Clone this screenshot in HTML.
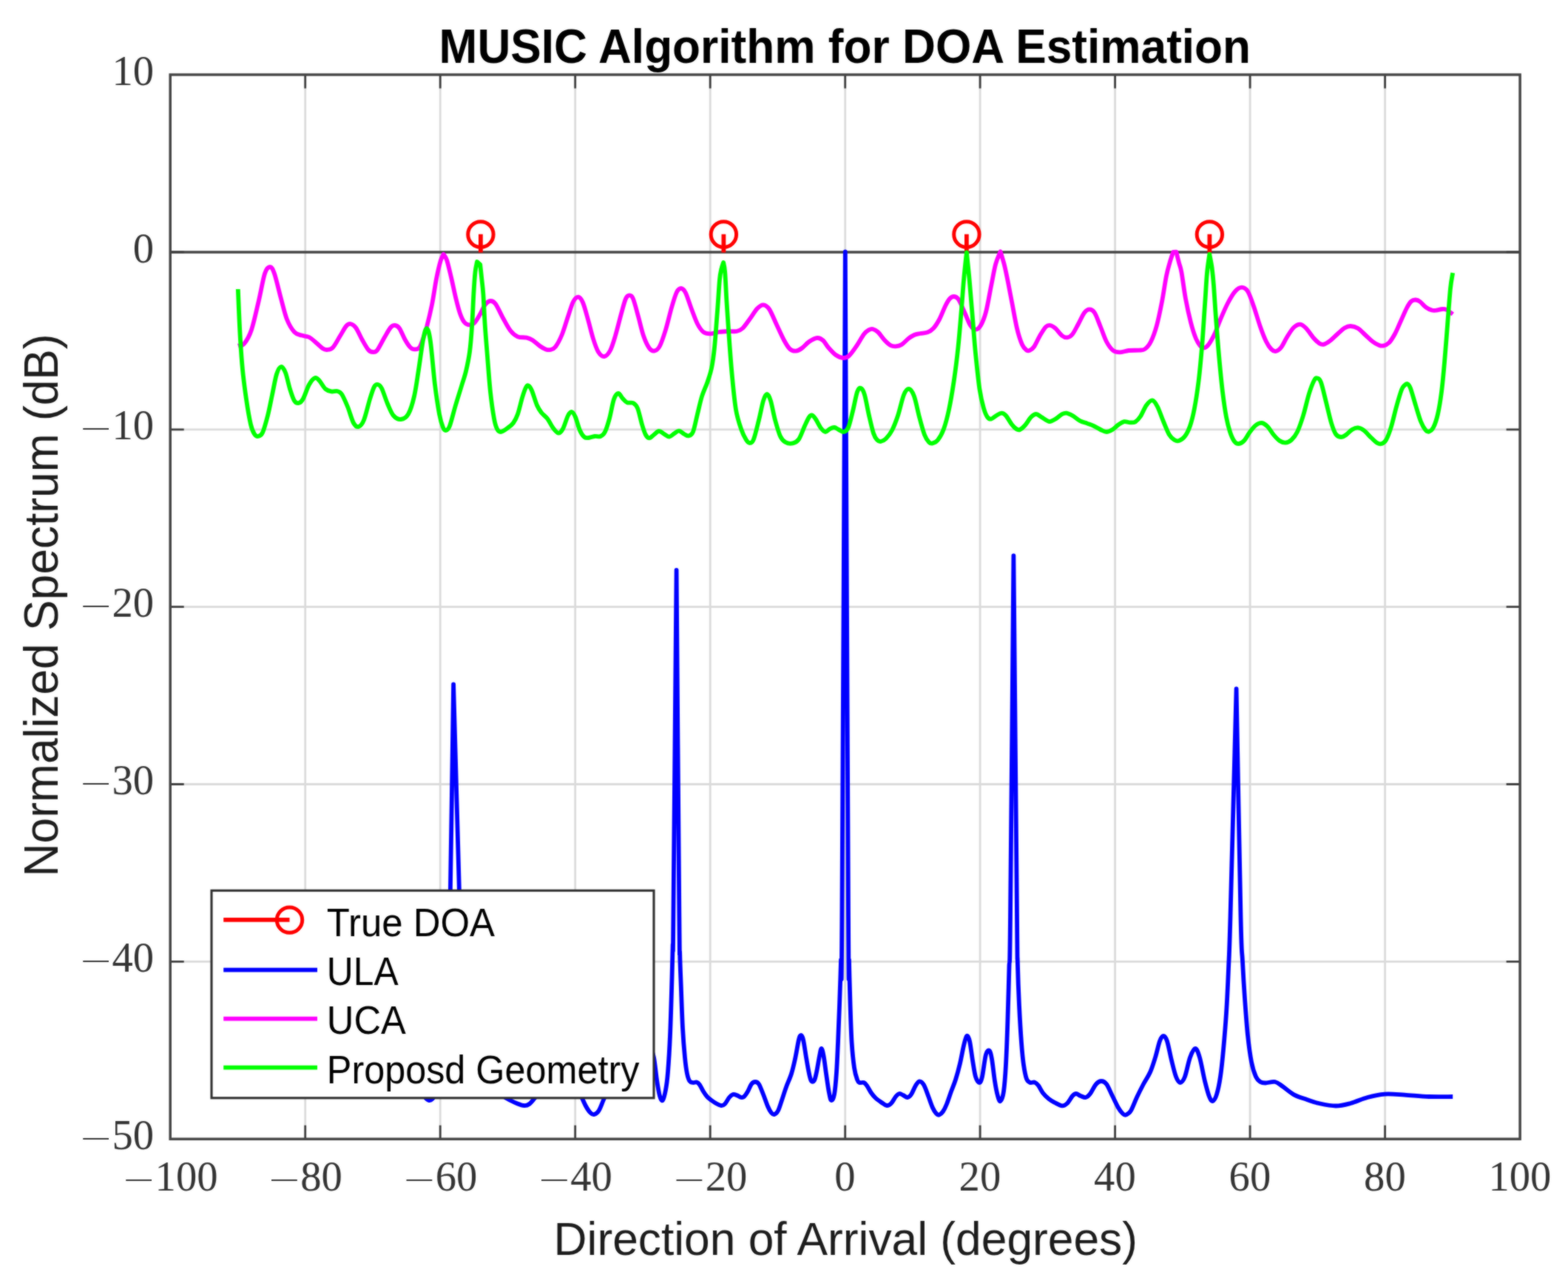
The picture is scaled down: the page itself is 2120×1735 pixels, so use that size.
<!DOCTYPE html>
<html lang="en"><head><meta charset="utf-8"><title>MUSIC Algorithm for DOA Estimation</title>
<style>
html,body{margin:0;padding:0;background:#fff}
body{width:2120px;height:1735px;overflow:hidden}
svg{display:block}
text{white-space:pre}
.ti{font-family:"Liberation Sans",sans-serif;font-weight:bold;fill:#000}
.al{font-family:"Liberation Sans",sans-serif;fill:#1c1c1c}
.lg{font-family:"Liberation Sans",sans-serif;fill:#000}
.tk{font-family:"Liberation Serif",serif;fill:#333}
</style></head><body>
<svg width="2120" height="1735" viewBox="0 0 2120 1735">
<defs><filter id="soft" color-interpolation-filters="sRGB" x="0" y="0" width="2120" height="1735" filterUnits="userSpaceOnUse"><feGaussianBlur stdDeviation="0.9" result="b"/><feComposite in="SourceGraphic" in2="b" operator="arithmetic" k1="0" k2="0.45" k3="0.55" k4="0"/></filter></defs>
<g filter="url(#soft)">
<rect width="2120" height="1735" fill="#fff"/>
<path d="M412.7 101V1540.3M595.2 101V1540.3M777.7 101V1540.3M960.2 101V1540.3M1142.7 101V1540.3M1325.1 101V1540.3M1507.6 101V1540.3M1690.1 101V1540.3M1872.6 101V1540.3M230.2 1300.4H2055.1M230.2 1060.5H2055.1M230.2 820.6H2055.1M230.2 580.8H2055.1M230.2 340.9H2055.1" fill="none" stroke="#dadada" stroke-width="2.8"/>
<path d="M230.2 340.9H2055.1" stroke="#444444" stroke-width="3.5" fill="none"/>
<g fill="none" stroke="#f00" stroke-width="5.8">
<path d="M649.9 341.5V316.7"/>
<path d="M978.4 341.5V316.7"/>
<path d="M1306.9 341.5V316.7"/>
<path d="M1635.4 341.5V316.7"/>
</g>
<g fill="none" stroke="#f00" stroke-width="5">
<circle cx="649.9" cy="317" r="17.2"/>
<circle cx="978.4" cy="317" r="17.2"/>
<circle cx="1306.9" cy="317" r="17.2"/>
<circle cx="1635.4" cy="317" r="17.2"/>
</g>
<g fill="none" stroke-width="5.8" stroke-linejoin="round" stroke-linecap="butt">
<path stroke="#00f" d="M321.8 1452C328.6 1448.7 350.5 1439.7 362.9 1432C375.2 1424.3 387.3 1411.3 395.7 1406C404.1 1400.7 407.5 1400 413.1 1400C418.7 1400 423.2 1401 429.2 1406C435.2 1411 442.7 1422.3 449.1 1430C455.5 1437.7 462.3 1446.7 467.6 1452C472.9 1457.3 475.8 1460.5 480.7 1462C485.7 1463.5 492.6 1463 497.4 1461C502.1 1459 504.8 1455.5 509.3 1450C513.8 1444.5 520.4 1433.3 524.6 1428C528.7 1422.7 530.8 1418 534.2 1418C537.5 1418 541.1 1422.3 544.9 1428C548.7 1433.7 552.5 1443.7 556.7 1452C560.9 1460.3 566.3 1472 570.2 1478C574.1 1484 577 1487.7 580 1488C583 1488.3 585.8 1486.3 588.1 1480C590.5 1473.7 592.5 1461.7 594.1 1450C595.8 1438.3 596.7 1425 598 1410C599.3 1395 600.6 1378.3 601.9 1360C603.1 1341.7 604.6 1320 605.7 1300C606.7 1280 607.1 1302.4 608.3 1240C609.5 1177.6 612.3 977.9 613.1 925.5C614.6 977.9 620.2 1179.2 621.9 1240C623.6 1300.8 622.5 1273.3 623.2 1290C624 1306.7 625.2 1323.3 626.3 1340C627.3 1356.7 628.2 1375 629.6 1390C630.9 1405 632.9 1419.7 634.5 1430C636.1 1440.3 637.6 1446.7 639.4 1452C641.1 1457.3 642.7 1460 644.8 1462C646.9 1464 649.6 1463.7 652.1 1464C654.6 1464.3 657.6 1463.1 659.9 1463.6C662.2 1464.1 663.7 1464.9 666 1467C668.3 1469.1 671.1 1473.3 673.6 1476C676.1 1478.7 678.4 1481 681.1 1483C683.8 1485 687 1486.5 689.9 1488C692.8 1489.5 695.5 1490.8 698.6 1492C701.7 1493.2 705.7 1494.8 708.6 1495C711.4 1495.2 713 1494.8 715.6 1493C718.2 1491.2 721.4 1486.5 723.9 1484C726.5 1481.5 728.5 1479 730.8 1478C733.1 1477 735.1 1478 737.6 1478C740.1 1478 743.4 1478 745.6 1478C747.9 1478 749 1478.3 751 1478C752.9 1477.7 755.4 1478 757.6 1476C759.7 1474 761.9 1468.2 764.1 1466C766.3 1463.8 768.4 1463 770.6 1463C772.7 1463 774.7 1463.2 777 1466C779.3 1468.8 782.1 1475 784.6 1480C787.2 1485 789.9 1491.8 792.2 1496C794.5 1500.2 796.6 1503.2 798.5 1505C800.3 1506.8 801.6 1507.5 803.4 1507C805.3 1506.5 807.6 1505.2 809.6 1502C811.7 1498.8 813.5 1493.3 815.7 1488C818 1482.7 820.4 1476 823 1470C825.7 1464 829.1 1458.3 831.5 1452C833.9 1445.7 835.5 1439.7 837.5 1432C839.5 1424.3 841.8 1411.3 843.4 1406C845 1400.7 845.8 1400 847 1400C848.2 1400 849.1 1401 850.5 1406C851.9 1411 853.6 1422.3 855.2 1430C856.8 1437.7 858.5 1446.7 859.9 1452C861.2 1457.3 862 1460.5 863.4 1462C864.7 1463.5 866.7 1463 868 1461C869.4 1459 870.1 1455.5 871.5 1450C872.8 1444.5 874.8 1433.3 876.1 1428C877.3 1422.7 877.7 1417.7 879.1 1418C880.4 1418.3 882.5 1423 884 1430C885.5 1437 886.7 1451.3 888 1460C889.3 1468.7 890.7 1477.3 892 1482C893.3 1486.7 894.7 1489.3 896 1488C897.3 1486.7 898.8 1480.3 900 1474C901.2 1467.7 902 1462.3 903 1450C904 1437.7 905.2 1418.3 906 1400C906.8 1381.7 907.4 1360 908 1340C908.6 1320 909.2 1296.7 909.6 1280C910 1263.3 909.6 1324.8 910.4 1240C911.2 1155.2 913.9 849.2 914.6 771C915.2 849.2 917.6 1153.5 918.4 1240C919.2 1326.5 918.8 1273.3 919.2 1290C919.6 1306.7 920.4 1323.3 921 1340C921.6 1356.7 922.2 1375 923 1390C923.8 1405 925 1419.7 926 1430C927 1440.3 927.9 1446.7 929 1452C930.1 1457.3 931.1 1460 932.4 1462C933.7 1464 935.4 1463.7 937 1464C938.6 1464.3 940.5 1463.1 942 1463.6C943.5 1464.1 944.5 1464.9 946 1467C947.5 1469.1 949.3 1473.3 951 1476C952.7 1478.7 954.2 1481 956 1483C957.8 1485 960 1486.5 962 1488C964 1489.5 965.8 1490.8 968 1492C970.2 1493.2 973 1494.8 975 1495C977 1495.2 978.2 1494.8 980 1493C981.8 1491.2 984.2 1486.2 986 1484C987.8 1481.8 989.3 1480.5 991 1480C992.7 1479.5 994.2 1480.3 996 1481C997.8 1481.7 1000.3 1483.7 1002 1484C1003.7 1484.3 1004.5 1484.3 1006 1483C1007.5 1481.7 1009.3 1478.8 1011 1476C1012.7 1473.2 1014.3 1468.2 1016 1466C1017.7 1463.8 1019.3 1463 1021 1463C1022.7 1463 1024.2 1463.2 1026 1466C1027.8 1468.8 1030 1475 1032 1480C1034 1485 1036.2 1491.8 1038 1496C1039.8 1500.2 1041.5 1503.2 1043 1505C1044.5 1506.8 1045.5 1507.5 1047 1507C1048.5 1506.5 1050.3 1505.2 1052 1502C1053.7 1498.8 1055.2 1493.3 1057 1488C1058.8 1482.7 1060.8 1476 1063 1470C1065.2 1464 1068 1458.3 1070 1452C1072 1445.7 1073.3 1439.7 1075 1432C1076.7 1424.3 1078.7 1411.3 1080 1406C1081.3 1400.7 1082 1400 1083 1400C1084 1400 1084.8 1401 1086 1406C1087.2 1411 1088.7 1422.3 1090 1430C1091.3 1437.7 1092.8 1446.7 1094 1452C1095.2 1457.3 1095.8 1460.5 1097 1462C1098.2 1463.5 1099.8 1463 1101 1461C1102.2 1459 1102.8 1455.5 1104 1450C1105.2 1444.5 1106.9 1433.3 1108 1428C1109.1 1422.7 1109.7 1418 1110.6 1418C1111.5 1418 1112.5 1422.3 1113.6 1428C1114.7 1433.7 1115.8 1443.7 1117 1452C1118.2 1460.3 1119.8 1472 1121 1478C1122.2 1484 1122.8 1487.7 1124 1488C1125.2 1488.3 1126.8 1486.3 1128 1480C1129.2 1473.7 1130.2 1461.7 1131 1450C1131.8 1438.3 1132.3 1425 1133 1410C1133.7 1395 1134.3 1378.3 1135 1360C1135.7 1341.7 1136.4 1320 1137 1300C1137.6 1280 1137.4 1399.9 1138.4 1240C1139.4 1080.1 1142.1 490.4 1142.8 340.5C1143.5 490.4 1146.1 1080.1 1147 1240C1147.9 1399.9 1147.6 1280 1148 1300C1148.4 1320 1149 1341.7 1149.6 1360C1150.2 1378.3 1150.7 1396 1151.6 1410C1152.5 1424 1153.8 1435.7 1155 1444C1156.2 1452.3 1157.8 1456.7 1159 1460C1160.2 1463.3 1160.5 1463.3 1162 1464C1163.5 1464.7 1166.3 1463.3 1168 1464C1169.7 1464.7 1170.3 1465.7 1172 1468C1173.7 1470.3 1176 1475.2 1178 1478C1180 1480.8 1181.7 1482.8 1184 1485C1186.3 1487.2 1189.5 1489.3 1192 1491C1194.5 1492.7 1196.8 1494.8 1199 1495C1201.2 1495.2 1203 1494 1205 1492C1207 1490 1209.2 1485.2 1211 1483C1212.8 1480.8 1214.3 1479.3 1216 1479C1217.7 1478.7 1219.2 1480.2 1221 1481C1222.8 1481.8 1225.2 1484.2 1227 1484C1228.8 1483.8 1230.2 1482.7 1232 1480C1233.8 1477.3 1236.2 1470.9 1238 1468C1239.8 1465.1 1241.2 1462.6 1243 1462.4C1244.8 1462.2 1247 1463.7 1249 1467C1251 1470.3 1253 1476.8 1255 1482C1257 1487.2 1259.2 1494 1261 1498C1262.8 1502 1264.5 1504.4 1266 1506C1267.5 1507.6 1268.5 1508.1 1270 1507.6C1271.5 1507.1 1273.3 1505.4 1275 1503C1276.7 1500.6 1278.2 1497.5 1280 1493C1281.8 1488.5 1284 1481.5 1286 1476C1288 1470.5 1290 1466.3 1292 1460C1294 1453.7 1296.2 1445.7 1298 1438C1299.8 1430.3 1301.5 1420.2 1303 1414C1304.5 1407.8 1305.7 1402 1307 1401C1308.3 1400 1309.7 1402.5 1311 1408C1312.3 1413.5 1313.7 1426 1315 1434C1316.3 1442 1317.5 1451 1319 1456C1320.5 1461 1322.5 1464 1324 1464C1325.5 1464 1326.5 1462.3 1328 1456C1329.5 1449.7 1331.3 1431.8 1333 1426C1334.7 1420.2 1336.7 1420 1338 1421C1339.3 1422 1339.8 1425.2 1341 1432C1342.2 1438.8 1343.7 1453.7 1345 1462C1346.3 1470.3 1347.7 1477.5 1349 1482C1350.3 1486.5 1351.3 1490 1352.6 1489C1353.9 1488 1355.8 1484.2 1357 1476C1358.2 1467.8 1359.1 1456 1360 1440C1360.9 1424 1361.7 1401.7 1362.4 1380C1363.1 1358.3 1363.8 1333.3 1364.4 1310C1365 1286.7 1365 1333.1 1366 1240C1367 1146.9 1369.7 832.9 1370.4 751.5C1371.2 832.9 1374.1 1148.6 1375 1240C1375.9 1331.4 1375.3 1280 1375.8 1300C1376.3 1320 1377.1 1341.7 1378 1360C1378.9 1378.3 1380 1396.7 1381 1410C1382 1423.3 1382.8 1431.8 1384 1440C1385.2 1448.2 1386.5 1455 1388 1459C1389.5 1463 1391.2 1463.2 1393 1464C1394.8 1464.8 1397.2 1462.9 1399 1463.6C1400.8 1464.3 1402.2 1465.6 1404 1468C1405.8 1470.4 1407.7 1475 1410 1478C1412.3 1481 1415.3 1483.8 1418 1486C1420.7 1488.2 1423 1489.4 1426 1491C1429 1492.6 1433.2 1495.2 1436 1495.4C1438.8 1495.6 1440.7 1494.2 1443 1492C1445.3 1489.8 1448 1484.2 1450 1482C1452 1479.8 1453.2 1479 1455 1479C1456.8 1479 1458.8 1481.2 1461 1482C1463.2 1482.8 1465.8 1484.5 1468 1484C1470.2 1483.5 1471.7 1482 1474 1479C1476.3 1476 1479.5 1468.8 1482 1466C1484.5 1463.2 1486.7 1462 1489 1462C1491.3 1462 1493.5 1462.7 1496 1466C1498.5 1469.3 1501.3 1476.7 1504 1482C1506.7 1487.3 1509.7 1494 1512 1498C1514.3 1502 1516.3 1504.4 1518 1506C1519.7 1507.6 1520.6 1508.3 1522.4 1507.6C1524.2 1506.9 1526.6 1505.9 1529 1502C1531.4 1498.1 1534.2 1490 1537 1484C1539.8 1478 1543 1471.7 1546 1466C1549 1460.3 1552.3 1456 1555 1450C1557.7 1444 1559.8 1437 1562 1430C1564.2 1423 1566.2 1412.8 1568 1408C1569.8 1403.2 1571.3 1401 1573 1401C1574.7 1401 1576.2 1402.5 1578 1408C1579.8 1413.5 1582 1426 1584 1434C1586 1442 1588.1 1451 1590 1456C1591.9 1461 1593.6 1464 1595.6 1464C1597.6 1464 1599.8 1461.7 1602 1456C1604.2 1450.3 1606.7 1436.3 1609 1430C1611.3 1423.7 1613.8 1418 1616 1418C1618.2 1418 1619.8 1422.7 1622 1430C1624.2 1437.3 1626.8 1453.2 1629 1462C1631.2 1470.8 1633.2 1478.5 1635 1483C1636.8 1487.5 1637.9 1489.5 1639.6 1489C1641.3 1488.5 1643.3 1485.5 1645 1480C1646.7 1474.5 1648.5 1466 1650 1456C1651.5 1446 1652.7 1434.3 1654 1420C1655.3 1405.7 1656.8 1388.3 1658 1370C1659.2 1351.7 1660.1 1331.7 1661 1310C1661.9 1288.3 1661.7 1303.1 1663.5 1240C1665.3 1176.9 1670.2 982.9 1671.6 931.5C1672.6 982.9 1676.1 1178.6 1677.5 1240C1678.9 1301.4 1679.1 1281.7 1680 1300C1680.9 1318.3 1681.8 1333.3 1683 1350C1684.2 1366.7 1685.5 1385.7 1687 1400C1688.5 1414.3 1690.2 1426.7 1692 1436C1693.8 1445.3 1696 1451.5 1698 1456C1700 1460.5 1701.8 1461.6 1704 1463C1706.2 1464.4 1707.7 1464.5 1711 1464.5C1714.3 1464.5 1720.2 1462.2 1724 1463C1727.8 1463.8 1729.7 1466.1 1734 1469C1738.3 1471.9 1744.5 1477.6 1750 1480.6C1755.5 1483.6 1761.5 1485.1 1767 1487C1772.5 1488.9 1776.5 1490.6 1783 1492C1789.5 1493.4 1798.8 1495.5 1806 1495.5C1813.2 1495.5 1818.8 1493.9 1826 1492C1833.2 1490.1 1841.3 1486.1 1849 1484C1856.7 1481.9 1863.7 1480.2 1872 1479.6C1880.3 1479 1889 1480 1899 1480.6C1909 1481.2 1921.1 1482.6 1932 1483C1942.9 1483.4 1958.9 1483 1964.2 1483"/>
<path stroke="#f0f" d="M321.8 467.6C323.1 467.2 327 468.6 330 465C333 461.4 336.7 455.8 340 446C343.3 436.2 347 418.7 350 406C353 393.3 355.5 377.5 358 370C360.5 362.5 362.8 361 365 361C367.2 361 368.5 362.8 371 370C373.5 377.2 377.2 393.7 380 404C382.8 414.3 385 424.5 388 432C391 439.5 394.7 445.4 398 449C401.3 452.6 404.7 452.4 408 453.6C411.3 454.8 414.7 454.3 418 456C421.3 457.7 425 461.5 428 464C431 466.5 433.7 469.5 436 471C438.3 472.5 439.7 473.2 442 473C444.3 472.8 447 473.2 450 470C453 466.8 457 458.8 460 454C463 449.2 465.7 443.7 468 441C470.3 438.3 471.8 437.7 474 438C476.2 438.3 478.3 439.3 481 443C483.7 446.7 487.2 455 490 460C492.8 465 495.7 470.3 498 473C500.3 475.7 502 475.9 504 476C506 476.1 507.3 476.9 510 473.6C512.7 470.3 517 461.1 520 456C523 450.9 525.7 445.7 528 443C530.3 440.3 532 439.8 534 440C536 440.2 537.7 440.7 540 444C542.3 447.3 545.5 455.7 548 460C550.5 464.3 552.8 467.9 555 470C557.2 472.1 559 472.4 561 472.4C563 472.4 565.2 472.4 567 470C568.8 467.6 570.3 462.7 572 458C573.7 453.3 575 449.7 577 442C579 434.3 581.8 422.8 584 412C586.2 401.2 588.1 386.8 590 377C591.9 367.2 594 358.5 595.6 353C597.2 347.5 599 345.3 599.7 343.8C600.5 345.2 602.5 346.8 604.2 352C605.9 357.2 608 366.7 610 375C612 383.3 614 393.8 616 402C618 410.2 620 418.3 622 424C624 429.7 625.8 433.4 628 436C630.2 438.6 632.7 439.4 635 439.4C637.3 439.4 639.7 438.4 642 436C644.3 433.6 646.7 429 649 425C651.3 421 653.7 415 656 412C658.3 409 660.7 407.2 663 407C665.3 406.8 667.2 407.2 670 411C672.8 414.8 676.7 424 680 430C683.3 436 686.7 442.8 690 447C693.3 451.2 696.3 453.7 700 455.3C703.7 456.9 708.7 455.8 712 456.6C715.3 457.4 717 458.1 720 460C723 461.9 727 465.9 730 468C733 470.1 735.7 471.6 738 472.4C740.3 473.2 741.8 473.6 744 473C746.2 472.4 748.3 472.5 751 469C753.7 465.5 757.2 458.8 760 452C762.8 445.2 765.5 435.3 768 428C770.5 420.7 772.7 412.4 775 408C777.3 403.6 779.8 401.4 782 401.6C784.2 401.8 785.8 403.9 788 409C790.2 414.1 792.7 423.8 795 432C797.3 440.2 799.7 450.7 802 458C804.3 465.3 806.5 472 809 476C811.5 480 814.3 482.3 817 482C819.7 481.7 822.5 478.7 825 474C827.5 469.3 829.5 462.3 832 454C834.5 445.7 837.7 432.3 840 424C842.3 415.7 844.2 408.1 846 404C847.8 399.9 849.3 399.4 851 399.4C852.7 399.4 854 399.2 856 404C858 408.8 860.7 419.7 863 428C865.3 436.3 867.5 446.8 870 454C872.5 461.2 875.5 467.6 878 471C880.5 474.4 882.7 474.9 885 474.4C887.3 473.9 889.5 472.7 892 468C894.5 463.3 897.3 454.7 900 446C902.7 437.3 905.5 424.5 908 416C910.5 407.5 912.8 399.3 915 395C917.2 390.7 919 389.8 921 390C923 390.2 924.7 391.3 927 396C929.3 400.7 932.3 411 935 418C937.7 425 940.3 432.8 943 438C945.7 443.2 948.2 446.8 951 449C953.8 451.2 956.5 451.4 960 451.4C963.5 451.4 968 449.6 972 449C976 448.4 980 448.2 984 448C988 447.8 992.7 448.7 996 448C999.3 447.3 1001 446.8 1004 444C1007 441.2 1010.7 435.5 1014 431C1017.3 426.5 1021 420.1 1024 417C1027 413.9 1029.3 412.1 1032 412.3C1034.7 412.5 1037 413.6 1040 418C1043 422.4 1046.7 432 1050 439C1053.3 446 1057 454.5 1060 460C1063 465.5 1065.3 469.6 1068 472C1070.7 474.4 1073.3 474.8 1076 474.6C1078.7 474.4 1081 473.1 1084 471C1087 468.9 1090.5 464.3 1094 462C1097.5 459.7 1101.8 457.2 1105 457C1108.2 456.8 1110.5 458.3 1113 460.5C1115.5 462.7 1117.2 466.8 1120 470C1122.8 473.2 1126.7 477.7 1130 480C1133.3 482.3 1137 483.8 1140 484C1143 484.2 1145 483.7 1148 481C1151 478.3 1154.7 472.8 1158 468C1161.3 463.2 1165.2 455.7 1168 452C1170.8 448.3 1173 447.2 1175 446C1177 444.8 1178 444.5 1180 445C1182 445.5 1184.3 446.5 1187 449C1189.7 451.5 1193.2 457 1196 460C1198.8 463 1201.5 465.6 1204 467C1206.5 468.4 1208.5 468.6 1211 468.4C1213.5 468.2 1216.2 467.7 1219 466C1221.8 464.3 1225.2 460.2 1228 458C1230.8 455.8 1233.3 454.2 1236 453C1238.7 451.8 1241 451.6 1244 451C1247 450.4 1251 450.6 1254 449.4C1257 448.2 1259.3 446.9 1262 444C1264.7 441.1 1267.3 437 1270 432C1272.7 427 1275.7 418.7 1278 414C1280.3 409.3 1282 406.2 1284 404C1286 401.8 1288 400.8 1290 401C1292 401.2 1293.7 401.5 1296 405C1298.3 408.5 1301.3 416.2 1304 422C1306.7 427.8 1309.5 436.1 1312 440C1314.5 443.9 1316.7 445.6 1319 445.6C1321.3 445.6 1323.7 443.9 1326 440C1328.3 436.1 1330.6 431 1333 422C1335.4 413 1338 396.8 1340.2 386C1342.4 375.2 1344.1 364.6 1346.2 357C1348.3 349.4 1351.5 343 1352.6 340.2C1353.4 343 1355.9 350.4 1357.6 357C1359.3 363.6 1360.9 371.5 1362.6 380C1364.3 388.5 1365.9 397.3 1368 408C1370.1 418.7 1372.7 434.3 1375 444C1377.3 453.7 1379.8 461.1 1382 466C1384.2 470.9 1386.3 472.3 1388 473.6C1389.7 474.9 1390.3 474.8 1392 474C1393.7 473.2 1395.7 472.3 1398 469C1400.3 465.7 1403.3 458.5 1406 454C1408.7 449.5 1411.7 444.3 1414 442C1416.3 439.7 1417.8 439.7 1420 440C1422.2 440.3 1424.3 441.7 1427 444C1429.7 446.3 1433.3 451.9 1436 454C1438.7 456.1 1440.7 456.7 1443 456.4C1445.3 456.1 1447.5 455.1 1450 452C1452.5 448.9 1455.3 442.8 1458 438C1460.7 433.2 1463.5 426.3 1466 423C1468.5 419.7 1470.7 418.4 1473 418.4C1475.3 418.4 1477.5 419.1 1480 423C1482.5 426.9 1485.3 435.5 1488 442C1490.7 448.5 1493.2 456.7 1496 462C1498.8 467.3 1502 471.6 1505 474C1508 476.4 1510.5 476.4 1514 476.4C1517.5 476.4 1521.7 474.5 1526 474C1530.3 473.5 1536.3 473.9 1540 473.6C1543.7 473.3 1545.3 473.9 1548 472C1550.7 470.1 1553.3 467.3 1556 462C1558.7 456.7 1561.5 449 1564 440C1566.5 431 1568.8 419.2 1571 408C1573.2 396.8 1575.2 381.8 1577 373C1578.8 364.2 1580.1 360.3 1581.6 355C1583.1 349.7 1585.4 343.3 1586.2 341L1590.4 340.6C1591 343.2 1593 351.4 1594.2 356C1595.4 360.6 1595.9 360 1597.4 368C1598.9 376 1600.9 392.7 1603 404C1605.1 415.3 1607.7 427 1610 436C1612.3 445 1614.8 452.7 1617 458C1619.2 463.3 1621.2 465.9 1623 468C1624.8 470.1 1626.2 470.7 1628 470.4C1629.8 470.1 1631.7 469.1 1634 466C1636.3 462.9 1639.3 457.7 1642 452C1644.7 446.3 1647 439 1650 432C1653 425 1656.7 416.3 1660 410C1663.3 403.7 1666.8 397.6 1670 394C1673.2 390.4 1676.2 388.6 1679 388.6C1681.8 388.6 1684.3 389.8 1687 394C1689.7 398.2 1692.2 406 1695 414C1697.8 422 1701.2 434 1704 442C1706.8 450 1709.5 456.9 1712 462C1714.5 467.1 1716.8 470.2 1719 472.4C1721.2 474.6 1722.8 475.4 1725 475C1727.2 474.6 1729.5 473.2 1732 470C1734.5 466.8 1737.2 460.5 1740 456C1742.8 451.5 1746 445.9 1749 443C1752 440.1 1755.2 438.4 1758 438.6C1760.8 438.8 1763 440.9 1766 444C1769 447.1 1773 453.6 1776 457C1779 460.4 1781.7 463 1784 464.4C1786.3 465.8 1787.7 466.2 1790 465.6C1792.3 465 1795 463.3 1798 461C1801 458.7 1804.7 454.9 1808 452C1811.3 449.1 1815 445.4 1818 443.6C1821 441.8 1823 440.9 1826 441C1829 441.1 1832.7 442 1836 444C1839.3 446 1842.7 450 1846 453C1849.3 456 1853 459.7 1856 462C1859 464.3 1861.7 465.7 1864 466.6C1866.3 467.5 1867.7 468.1 1870 467.6C1872.3 467.1 1875.3 466.2 1878 463.5C1880.7 460.8 1883.3 456.4 1886 451.5C1888.7 446.6 1891.3 439.8 1894 434C1896.7 428.2 1899.7 420.9 1902 416.5C1904.3 412.1 1906 409.3 1908 407.5C1910 405.7 1912 405.4 1914 405.5C1916 405.6 1917.7 406.3 1920 408C1922.3 409.7 1925.3 413.7 1928 415.6C1930.7 417.5 1933.7 418.9 1936 419.6C1938.3 420.3 1939.7 419.9 1942 419.6C1944.3 419.3 1947.7 418.1 1950 418C1952.3 417.9 1953.6 417.8 1956 419C1958.4 420.2 1962.9 424 1964.2 425"/>
<path stroke="#0f0" d="M321.8 391C322 395.8 322.5 408.5 323 420C323.5 431.5 324.2 446.7 325 460C325.8 473.3 326.7 486.7 328 500C329.3 513.3 331.2 527.7 333 540C334.8 552.3 337.2 566.2 339 574C340.8 581.8 342.3 584.3 344 587C345.7 589.7 347.2 590.3 349 590C350.8 589.7 352.8 589.7 355 585C357.2 580.3 359.8 570.5 362 562C364.2 553.5 366 543.3 368 534C370 524.7 372 512.3 374 506C376 499.7 378 496.3 380 496C382 495.7 384 499 386 504C388 509 390 519.7 392 526C394 532.3 396 538.8 398 542C400 545.2 402 545.5 404 545C406 544.5 407.7 543.2 410 539C412.3 534.8 415.3 524.7 418 520C420.7 515.3 423.7 511.8 426 511C428.3 510.2 429.7 512.5 432 515C434.3 517.5 437.3 523.6 440 526C442.7 528.4 445.3 528.9 448 529.4C450.7 529.9 453.7 528.4 456 529C458.3 529.6 459.7 529.5 462 533C464.3 536.5 467.3 543.5 470 550C472.7 556.5 475.5 567.5 478 572C480.5 576.5 482.7 577.7 485 577C487.3 576.3 489.5 574.2 492 568C494.5 561.8 497.7 547.5 500 540C502.3 532.5 504.2 526.3 506 523C507.8 519.7 509.3 519.7 511 520C512.7 520.3 513.8 520.7 516 525C518.2 529.3 521.3 539.8 524 546C526.7 552.2 529 558.5 532 562C535 565.5 538.7 567.3 542 567C545.3 566.7 549 565.2 552 560C555 554.8 557.7 546 560 536C562.3 526 564 512.7 566 500C568 487.3 570.2 469.3 572 460C573.8 450.7 575.3 443.7 577 444C578.7 444.3 580.2 449.3 582 462C583.8 474.7 586 503.7 588 520C590 536.3 592.2 550.3 594 560C595.8 569.7 597.5 574.3 599 578C600.5 581.7 601.5 582.3 603 582C604.5 581.7 605.8 581.7 608 576C610.2 570.3 613.3 557 616 548C618.7 539 621.7 529.7 624 522C626.3 514.3 628.2 509.7 630 502C631.8 494.3 633.6 486.3 635 476C636.4 465.7 637.3 453.2 638.2 440C639.1 426.8 639.7 409 640.4 397C641.1 385 641.7 375.2 642.5 368C643.3 360.8 644.6 356.3 645 354L649.2 357.6C649.6 360.8 650.6 370.3 651.3 377C652 383.7 652.7 387.8 653.4 398C654.1 408.2 654.7 424 655.6 438C656.5 452 657.8 466.7 659 482C660.2 497.3 661.5 516 663 530C664.5 544 666.5 557.7 668 566C669.5 574.3 670.5 577 672 580C673.5 583 674.7 584.2 677 584C679.3 583.8 683.2 581 686 579C688.8 577 691.7 575.2 694 572C696.3 568.8 698 565.7 700 560C702 554.3 704.2 544 706 538C707.8 532 709.6 526.8 711 524C712.4 521.2 713.2 520.8 714.5 521.5C715.8 522.2 717.1 523.6 719 528C720.9 532.4 723.8 543 726 548C728.2 553 729.7 555 732 558C734.3 561 737.3 562.5 740 566C742.7 569.5 745.5 575.7 748 579C750.5 582.3 752.8 585.4 755 585.6C757.2 585.8 758.8 583.9 761 580C763.2 576.1 766 565.8 768 562C770 558.2 771.3 556.7 773 557C774.7 557.3 776.2 559.8 778 564C779.8 568.2 782 577.5 784 582C786 586.5 788 589.3 790 591C792 592.7 793.7 592.2 796 592C798.3 591.8 801.3 590.3 804 590C806.7 589.7 809.7 591 812 590C814.3 589 816 588 818 584C820 580 822 573.3 824 566C826 558.7 828 545.7 830 540C832 534.3 834 532.2 836 532C838 531.8 840 536.9 842 539C844 541.1 845.7 543.4 848 544.4C850.3 545.4 853.7 543.7 856 545C858.3 546.3 860 547.2 862 552C864 556.8 866.2 568 868 574C869.8 580 871.3 584.9 873 588C874.7 591.1 876.2 592.4 878 592.4C879.8 592.4 881.8 589.6 884 588C886.2 586.4 888.7 583.2 891 583C893.3 582.8 895.7 585.7 898 587C900.3 588.3 902.7 590.8 905 590.6C907.3 590.4 909.8 587.3 912 586C914.2 584.7 915.8 582.4 918 582.6C920.2 582.8 922.8 585.9 925 587C927.2 588.1 929 589.9 931 589.4C933 588.9 935 588.9 937 584C939 579.1 941 568 943 560C945 552 946.8 543 949 536C951.2 529 953.8 524.3 956 518C958.2 511.7 960.3 506 962 498C963.7 490 964.7 483 966 470C967.3 457 968.8 435.3 970 420C971.2 404.7 972.1 387.3 973 378C973.9 368.7 974.4 367.8 975.3 364C976.1 360.2 977.6 356.5 978.1 355C978.5 357.2 979.5 358.8 980.2 368C981 377.2 981.6 394.7 982.6 410C983.6 425.3 984.8 443.3 986 460C987.2 476.7 988.5 494.3 990 510C991.5 525.7 993 542.3 995 554C997 565.7 999.7 573.2 1002 580C1004.3 586.8 1007 591.8 1009 595C1011 598.2 1012.3 599.2 1014 599C1015.7 598.8 1017 599.2 1019 594C1021 588.8 1023.8 576.7 1026 568C1028.2 559.3 1030.2 547.8 1032 542C1033.8 536.2 1035.3 533 1037 533C1038.7 533 1040.2 536.2 1042 542C1043.8 547.8 1045.8 560 1048 568C1050.2 576 1052.7 585 1055 590C1057.3 595 1059.2 596.4 1062 598C1064.8 599.6 1069 600.1 1072 599.4C1075 598.7 1077.3 597.9 1080 594C1082.7 590.1 1085.7 581 1088 576C1090.3 571 1092.3 566.4 1094 564C1095.7 561.6 1096.5 561.1 1098 561.6C1099.5 562.1 1101 564.1 1103 567C1105 569.9 1107.8 576.2 1110 579C1112.2 581.8 1114 583.8 1116 584C1118 584.2 1120 581 1122 580C1124 579 1126 577.8 1128 578C1130 578.2 1131.8 580 1134 581C1136.2 582 1138.8 584.5 1141 584C1143.2 583.5 1145 582.7 1147 578C1149 573.3 1151 564 1153 556C1155 548 1157.2 535.2 1159 530C1160.8 524.8 1162.3 524.3 1164 525C1165.7 525.7 1167.2 527.8 1169 534C1170.8 540.2 1173 553.3 1175 562C1177 570.7 1179.2 580.5 1181 586C1182.8 591.5 1184.3 593.2 1186 595C1187.7 596.8 1189 597.3 1191 597C1193 596.7 1195.5 595.5 1198 593C1200.5 590.5 1203.3 587.2 1206 582C1208.7 576.8 1211.3 570 1214 562C1216.7 554 1219.5 540 1222 534C1224.5 528 1226.7 525.7 1229 526C1231.3 526.3 1233.7 529.7 1236 536C1238.3 542.3 1240.7 555.3 1243 564C1245.3 572.7 1247.8 582.3 1250 588C1252.2 593.7 1254.2 596.1 1256 598C1257.8 599.9 1259 599.9 1261 599.4C1263 598.9 1265.5 598.2 1268 595C1270.5 591.8 1273.5 586.8 1276 580C1278.5 573.2 1280.7 564.7 1283 554C1285.3 543.3 1287.5 530 1289.6 516C1291.7 502 1293.7 486 1295.4 470C1297.1 454 1298.5 435.7 1299.8 420C1301.1 404.3 1302.1 389.1 1303.3 376C1304.5 362.9 1306.3 347 1306.9 341.2C1307.6 347.7 1309.5 365.2 1310.8 380C1312.1 394.8 1313.6 413.3 1315 430C1316.4 446.7 1317.6 464 1319.2 480C1320.8 496 1322.6 514 1324.4 526C1326.2 538 1328.2 545.7 1330 552C1331.8 558.3 1333.3 561.6 1335 564C1336.7 566.4 1338 566.9 1340 566.6C1342 566.3 1344.7 563.3 1347 562C1349.3 560.7 1351.8 558.6 1354 558.6C1356.2 558.6 1357.7 559.4 1360 562C1362.3 564.6 1365.7 571 1368 574C1370.3 577 1372.2 578.8 1374 580C1375.8 581.2 1377 581.8 1379 581C1381 580.2 1383.5 577.8 1386 575C1388.5 572.2 1391.5 566.5 1394 564C1396.5 561.5 1398.7 560 1401 560C1403.3 560 1405.5 562.5 1408 564C1410.5 565.5 1414 568 1416 569C1418 570 1418 570.5 1420 570C1422 569.5 1425.3 567.7 1428 566C1430.7 564.3 1433.7 561.2 1436 560C1438.3 558.8 1439.7 558.3 1442 558.6C1444.3 558.9 1447 560.3 1450 562C1453 563.7 1456.7 567.2 1460 569C1463.3 570.8 1467 571.5 1470 572.6C1473 573.7 1475 574.2 1478 575.6C1481 577 1485 579.6 1488 581C1491 582.4 1493.3 584 1496 584C1498.7 584 1501.3 582.6 1504 581C1506.7 579.4 1509.3 576.3 1512 574.5C1514.7 572.7 1517.3 570.7 1520 570.2C1522.7 569.7 1525.5 571.4 1528 571.4C1530.5 571.4 1532.7 571.8 1535 570.4C1537.3 569 1539.5 566.7 1542 563C1544.5 559.3 1547.3 551.6 1550 548C1552.7 544.4 1555.5 541.1 1558 541.4C1560.5 541.7 1562.5 545.2 1565 550C1567.5 554.8 1570.3 563.7 1573 570C1575.7 576.3 1578.5 583.8 1581 588C1583.5 592.2 1585.8 593.7 1588 595C1590.2 596.3 1591.7 596.8 1594 596C1596.3 595.2 1599.5 593.3 1602 590C1604.5 586.7 1606.8 582.3 1609 576C1611.2 569.7 1613.1 562 1615 552C1616.9 542 1618.8 529.7 1620.5 516C1622.2 502.3 1623.5 487.7 1625 470C1626.5 452.3 1628 426.7 1629.2 410C1630.4 393.3 1630.9 381.1 1631.9 370C1632.9 358.9 1634.7 348 1635.3 343.6C1635.8 346.7 1637.6 354.9 1638.6 362C1639.5 369.1 1640.1 374.7 1641 386C1641.9 397.3 1642.8 414.3 1644 430C1645.2 445.7 1646.5 463.3 1648 480C1649.5 496.7 1651.3 516 1653 530C1654.7 544 1656.3 555 1658 564C1659.7 573 1661.2 578.5 1663 584C1664.8 589.5 1667 594.3 1669 597C1671 599.7 1672.8 600.2 1675 600C1677.2 599.8 1679.5 598.7 1682 596C1684.5 593.3 1687.3 587.5 1690 584C1692.7 580.5 1695.3 577 1698 575C1700.7 573 1703.3 571.7 1706 572C1708.7 572.3 1711.3 574.3 1714 577C1716.7 579.7 1719.3 584.8 1722 588C1724.7 591.2 1727.3 594.2 1730 596C1732.7 597.8 1735.3 598.8 1738 598.6C1740.7 598.4 1743.3 597.4 1746 595C1748.7 592.6 1751.3 589.5 1754 584C1756.7 578.5 1759.3 570.7 1762 562C1764.7 553.3 1767.5 540 1770 532C1772.5 524 1775.2 517.4 1777 514C1778.8 510.6 1779.5 510.9 1781 511.4C1782.5 511.9 1784 511.6 1786 517C1788 522.4 1790.7 534.8 1793 544C1795.3 553.2 1797.8 564.8 1800 572C1802.2 579.2 1803.8 583.8 1806 587C1808.2 590.2 1810.7 590.8 1813 591C1815.3 591.2 1817.5 589.7 1820 588C1822.5 586.3 1825.3 582.6 1828 581C1830.7 579.4 1833.3 578.2 1836 578.4C1838.7 578.6 1841 579.7 1844 582C1847 584.3 1851 589.2 1854 592C1857 594.8 1859.7 597.7 1862 599C1864.3 600.3 1866 600.7 1868 600C1870 599.3 1871.8 598.8 1874 595C1876.2 591.2 1878.7 584.5 1881 577C1883.3 569.5 1885.7 558.3 1888 550C1890.3 541.7 1893.2 531.8 1895 527C1896.8 522.2 1897.7 522.3 1899 521C1900.3 519.7 1901.7 518.5 1903 519.2C1904.3 519.9 1905.2 520.2 1907 525C1908.8 529.8 1911.7 540.5 1914 548C1916.3 555.5 1918.8 564.5 1921 570C1923.2 575.5 1925.2 578.7 1927 581C1928.8 583.3 1930.2 584.1 1932 583.6C1933.8 583.1 1936 581.9 1938 578C1940 574.1 1942.2 568 1944 560C1945.8 552 1947.5 541.7 1949 530C1950.5 518.3 1951.7 505 1953 490C1954.3 475 1955.7 456.7 1957 440C1958.3 423.3 1959.8 401.8 1961 390C1962.2 378.2 1963.7 372.5 1964.2 369"/>
</g>
<path d="M412.7 1540.3v-18.5M412.7 101v18.5M595.2 1540.3v-18.5M595.2 101v18.5M777.7 1540.3v-18.5M777.7 101v18.5M960.2 1540.3v-18.5M960.2 101v18.5M1142.7 1540.3v-18.5M1142.7 101v18.5M1325.1 1540.3v-18.5M1325.1 101v18.5M1507.6 1540.3v-18.5M1507.6 101v18.5M1690.1 1540.3v-18.5M1690.1 101v18.5M1872.6 1540.3v-18.5M1872.6 101v18.5M230.2 1300.4h18.5M2055.1 1300.4h-18.5M230.2 1060.5h18.5M2055.1 1060.5h-18.5M230.2 820.6h18.5M2055.1 820.6h-18.5M230.2 580.8h18.5M2055.1 580.8h-18.5M230.2 340.9h18.5M2055.1 340.9h-18.5" fill="none" stroke="#3c3c3c" stroke-width="2.8"/>
<rect x="230.2" y="101" width="1824.9" height="1439.3" fill="none" stroke="#444444" stroke-width="3.5"/>
<rect x="286" y="1204.3" width="598" height="280.5" fill="#fff" stroke="#2e2e2e" stroke-width="3.1"/>
<g fill="none" stroke-width="5.8">
<path stroke="#f00" d="M302.2 1243.8H391.5"/>
<path stroke="#00f" d="M302.2 1311.7H429"/>
<path stroke="#f0f" d="M302.2 1377.6H429"/>
<path stroke="#0f0" d="M302.2 1443.7H429"/>
</g>
<circle cx="391.5" cy="1244.1" r="17.2" fill="none" stroke="#f00" stroke-width="5"/>
<text class="lg" x="441.8" y="1265.6" font-size="53.4" text-anchor="start" textLength="227.2" lengthAdjust="spacingAndGlyphs">True DOA</text>
<text class="lg" x="441.8" y="1331.8" font-size="53.4" text-anchor="start" textLength="96.8" lengthAdjust="spacingAndGlyphs">ULA</text>
<text class="lg" x="441.8" y="1397.8" font-size="53.4" text-anchor="start" textLength="107" lengthAdjust="spacingAndGlyphs">UCA</text>
<text class="lg" x="441.8" y="1464.6" font-size="53.4" text-anchor="start" textLength="422.6" lengthAdjust="spacingAndGlyphs">Proposd Geometry</text>
<text class="ti" x="593.6" y="85" font-size="64.5" text-anchor="start" textLength="1097.5" lengthAdjust="spacingAndGlyphs">MUSIC Algorithm for DOA Estimation</text>
<text class="al" x="748.6" y="1696.9" font-size="62.3" text-anchor="start" textLength="789.4" lengthAdjust="spacingAndGlyphs">Direction of Arrival (degrees)</text>
<g transform="translate(77.6 1185.4) rotate(-90)"><text class="al" x="0" y="0" font-size="63.9" text-anchor="start" textLength="734" lengthAdjust="spacingAndGlyphs">Normalized Spectrum (dB)</text></g>
<text class="tk" font-size="56.6"><tspan x="166.6" y="1608.6" font-size="40" textLength="42.2" lengthAdjust="spacingAndGlyphs">−</tspan><tspan x="209.6" y="1609.8">100</tspan></text>
<text class="tk" font-size="56.6"><tspan x="363.2" y="1608.6" font-size="40" textLength="42.2" lengthAdjust="spacingAndGlyphs">−</tspan><tspan x="406.2" y="1609.8">80</tspan></text>
<text class="tk" font-size="56.6"><tspan x="545.7" y="1608.6" font-size="40" textLength="42.2" lengthAdjust="spacingAndGlyphs">−</tspan><tspan x="588.7" y="1609.8">60</tspan></text>
<text class="tk" font-size="56.6"><tspan x="728.2" y="1608.6" font-size="40" textLength="42.2" lengthAdjust="spacingAndGlyphs">−</tspan><tspan x="771.2" y="1609.8">40</tspan></text>
<text class="tk" font-size="56.6"><tspan x="910.7" y="1608.6" font-size="40" textLength="42.2" lengthAdjust="spacingAndGlyphs">−</tspan><tspan x="953.7" y="1609.8">20</tspan></text>
<text class="tk" font-size="56.6"><tspan x="1128.3" y="1609.8">0</tspan></text>
<text class="tk" font-size="56.6"><tspan x="1296.6" y="1609.8">20</tspan></text>
<text class="tk" font-size="56.6"><tspan x="1479.1" y="1609.8">40</tspan></text>
<text class="tk" font-size="56.6"><tspan x="1661.6" y="1609.8">60</tspan></text>
<text class="tk" font-size="56.6"><tspan x="1844.1" y="1609.8">80</tspan></text>
<text class="tk" font-size="56.6"><tspan x="2012.5" y="1609.8">100</tspan></text>
<text class="tk" font-size="56.6"><tspan x="108.4" y="1552.7" font-size="40" textLength="42.2" lengthAdjust="spacingAndGlyphs">−</tspan><tspan x="151.4" y="1553.9">50</tspan></text>
<text class="tk" font-size="56.6"><tspan x="108.4" y="1312.9" font-size="40" textLength="42.2" lengthAdjust="spacingAndGlyphs">−</tspan><tspan x="151.4" y="1314">40</tspan></text>
<text class="tk" font-size="56.6"><tspan x="108.4" y="1073" font-size="40" textLength="42.2" lengthAdjust="spacingAndGlyphs">−</tspan><tspan x="151.4" y="1074.1">30</tspan></text>
<text class="tk" font-size="56.6"><tspan x="108.4" y="833.1" font-size="40" textLength="42.2" lengthAdjust="spacingAndGlyphs">−</tspan><tspan x="151.4" y="834.2">20</tspan></text>
<text class="tk" font-size="56.6"><tspan x="108.4" y="593.2" font-size="40" textLength="42.2" lengthAdjust="spacingAndGlyphs">−</tspan><tspan x="151.4" y="594.4">10</tspan></text>
<text class="tk" font-size="56.6"><tspan x="179.7" y="354.5">0</tspan></text>
<text class="tk" font-size="56.6"><tspan x="151.4" y="114.6">10</tspan></text>
</g>
</svg>
</body></html>
